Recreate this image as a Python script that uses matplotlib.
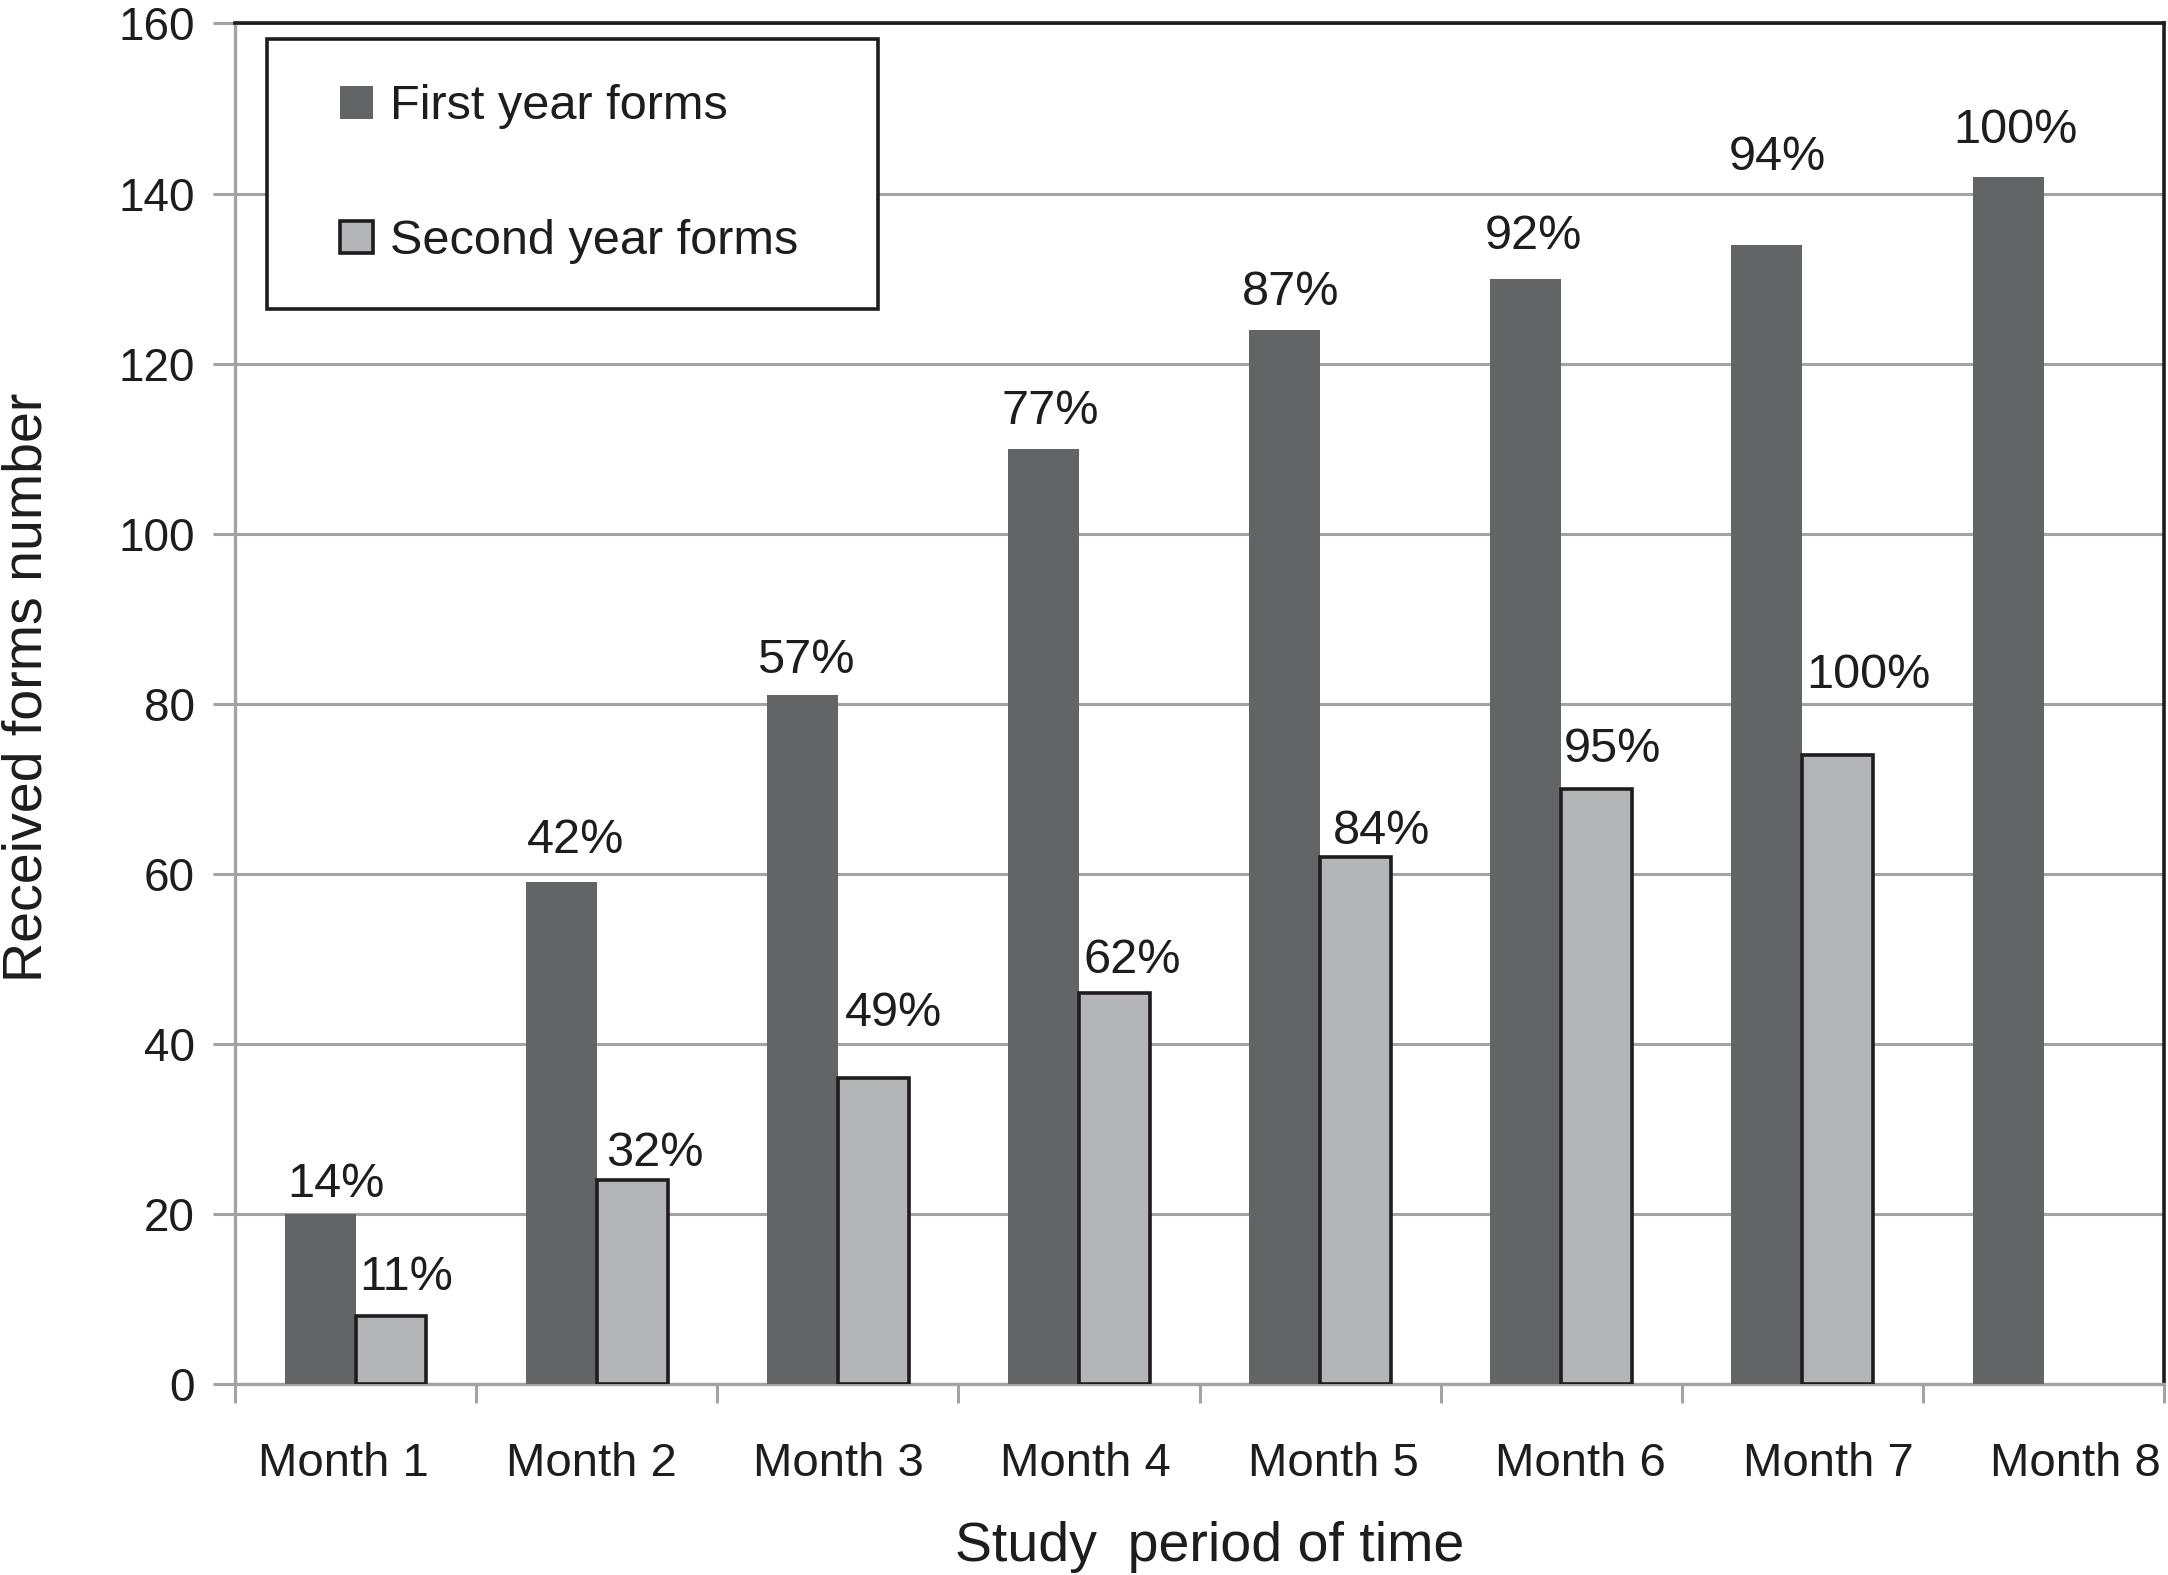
import numpy as np
import matplotlib
matplotlib.use('Agg')
import matplotlib.pyplot as plt
from matplotlib.patches import Rectangle
from matplotlib.legend_handler import HandlerPatch

plt.rcParams['font.family'] = ['Liberation Sans', 'DejaVu Sans']

# dados
months = ['Month 1', 'Month 2', 'Month 3', 'Month 4', 'Month 5', 'Month 6', 'Month 7', 'Month 8']
first_year = [20, 59, 81, 110, 124, 130, 134, 142]
second_year = [8, 24, 36, 46, 62, 70, 74]
first_pct = ['14%', '42%', '57%', '77%', '87%', '92%', '94%', '100%']
second_pct = ['11%', '32%', '49%', '62%', '84%', '95%', '100%']

# ajustes manuais dos rotulos (pontos): dx, dy
first_nudge = [(2, 12), (1, 21), (-7, 16), (-5, 18), (-5, 18), (-4, 21), (-2, 54), (-14, 24)]
second_nudge = [(3, 19), (7, 10), (5, 37), (3, 14), (9, 9), (2, 19), (3, 48)]

dark = '#636466'
light = '#b4b5b7'
gray = '#a3a3a3'
ink = '#1f1c1d'

fig = plt.figure(figsize=(21.68, 15.75), dpi=100)
ax = fig.add_axes([0.1084, 0.1213, 0.8898, 0.8638])

x = np.arange(len(months))
w = 0.294
b1 = ax.bar(x - w, first_year, width=w, align='edge', color=dark, zorder=3,
            label='First year forms')
x2 = x[:len(second_year)]
b2 = ax.bar(x2, second_year, width=w, align='edge', color=light, edgecolor=ink,
            linewidth=2.6, zorder=3, label='Second year forms')

for i, t in enumerate(first_pct):
    ax.annotate(t, (x[i] - w, first_year[i]), xytext=first_nudge[i],
                textcoords='offset points', ha='left', va='baseline',
                fontsize=35, color=ink, zorder=4)
for i, t in enumerate(second_pct):
    ax.annotate(t, (x2[i], second_year[i]), xytext=second_nudge[i],
                textcoords='offset points', ha='left', va='baseline',
                fontsize=35, color=ink, zorder=4)

ax.set_xlim(-0.5, len(months) - 0.5)
ax.set_ylim(0, 160)
ax.set_yticks(np.arange(0, 161, 20))
ax.yaxis.grid(True, color=gray, linewidth=2.2)
ax.set_axisbelow(True)

# rotulos do eixo x ficam um pouco mais espalhados que as categorias
ax.set_xticks(x * 1.026 - 0.05)
ax.set_xticklabels(months)
ax.set_xticks(np.arange(-0.5, len(months), 1), minor=True)
ax.tick_params(axis='x', which='major', length=0, pad=42, labelsize=34, labelcolor=ink)
ax.tick_params(axis='x', which='minor', length=14, width=2.2, color=gray)
ax.tick_params(axis='y', length=16, width=2.2, color=gray, pad=13,
               labelsize=33, labelcolor=ink)

for s in ['left', 'bottom']:
    ax.spines[s].set_color(gray)
    ax.spines[s].set_linewidth(2.4)
for s in ['top', 'right']:
    ax.spines[s].set_color(ink)
    ax.spines[s].set_linewidth(2.6)

ax.set_ylabel('Received forms number', fontsize=40, color=ink)
ax.yaxis.set_label_coords(-0.094, 0.512)
ax.set_xlabel('Study  period of time', fontsize=40, color=ink)
ax.xaxis.set_label_coords(0.5054, -0.1007)


def square_right(legend, orig_handle, xdescent, ydescent, width, height, fontsize):
    return Rectangle((width - height - xdescent, -ydescent), height, height)


leg = ax.legend(handles=[b1.patches[0], b2.patches[0]],
                labels=['First year forms', 'Second year forms'],
                handler_map={Rectangle: HandlerPatch(patch_func=square_right)},
                loc='upper left', bbox_to_anchor=(0.0166, 0.791, 0.3167, 0.1976),
                mode='expand', borderaxespad=0, fontsize=35,
                handlelength=1.24, handleheight=0.66, handletextpad=0.35,
                borderpad=0.93, labelspacing=1.85, fancybox=False,
                edgecolor=ink, framealpha=1)
leg.get_frame().set_linewidth(2.6)
for t in leg.get_texts():
    t.set_color(ink)

plt.savefig('out.png', dpi=100)
